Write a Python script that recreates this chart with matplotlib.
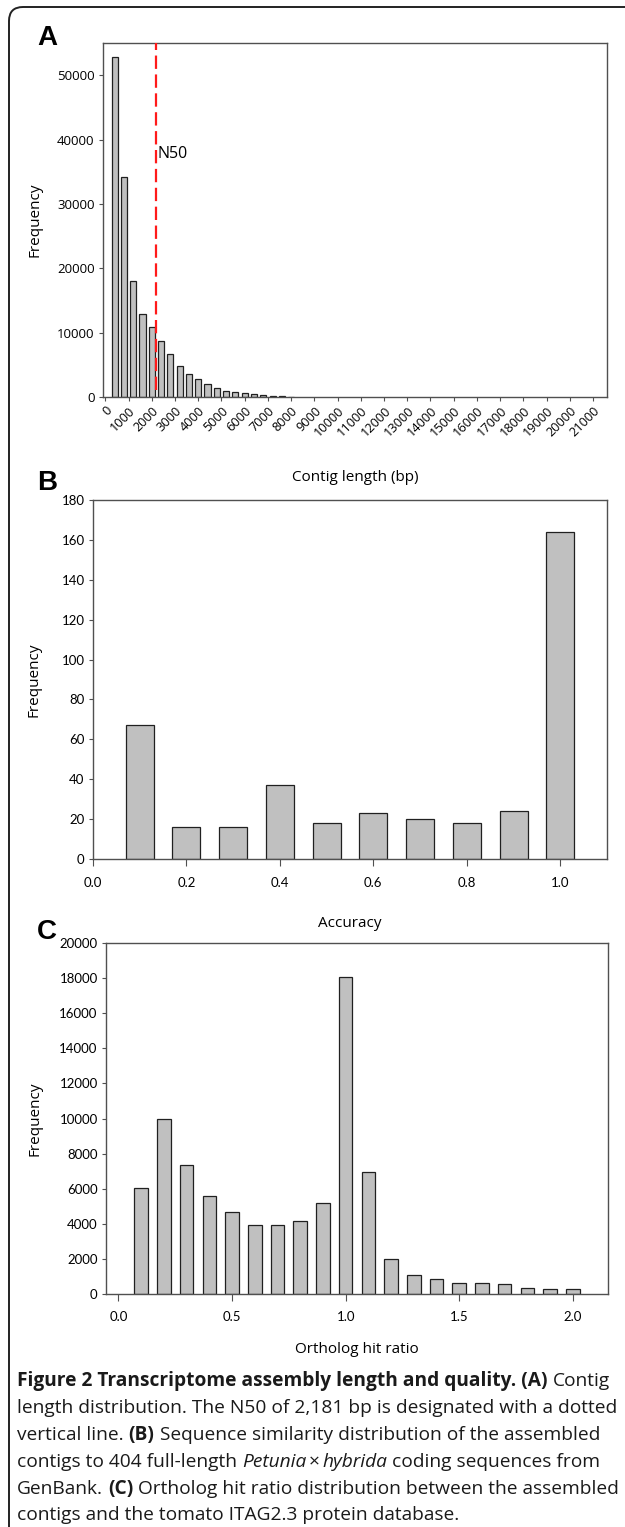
import matplotlib
matplotlib.use("Agg")
import matplotlib.pyplot as plt
from matplotlib.patches import FancyBboxPatch
import numpy as np

# panel A: contig length histogram (400 bp bins)
len_bins = [400, 800, 1200, 1600, 2000, 2400, 2800, 3200, 3600, 4000,
            4400, 4800, 5200, 5600, 6000, 6400, 6800, 7200, 7600, 8000]
len_counts = [52900, 34150, 18050, 12950, 10950, 8750, 6650, 4850, 3600, 2800,
              1950, 1350, 930, 770, 550, 400, 270, 200, 180, 60]
n50 = 2181

# panel B: accuracy
acc_bins = [0.1, 0.2, 0.3, 0.4, 0.5, 0.6, 0.7, 0.8, 0.9, 1.0]
acc_counts = [67, 16, 16, 37, 18, 23, 20, 18, 24, 164]

# panel C: ortholog hit ratio
ohr_bins = [0.1, 0.2, 0.3, 0.4, 0.5, 0.6, 0.7, 0.8, 0.9, 1.0,
            1.1, 1.2, 1.3, 1.4, 1.5, 1.6, 1.7, 1.8, 1.9, 2.0]
ohr_counts = [6050, 10000, 7370, 5560, 4670, 3950, 3950, 4180, 5200, 18040,
              6950, 1990, 1060, 840, 650, 610, 570, 360, 290, 280]

W, H = 625, 1527
fig = plt.figure(figsize=(W / 100, H / 100), dpi=100)

tickfont = ['Lato', 'DejaVu Sans']
labfont = ['Open Sans', 'DejaVu Sans']
bar_fc = '#c0c0c0'
bar_ec = '#202020'
spine_c = '#505050'


def axes_px(left, right, top, bottom):
    return fig.add_axes([left / W, 1 - bottom / H, (right - left) / W, (bottom - top) / H])


def style(ax):
    for s in ax.spines.values():
        s.set_color(spine_c)
        s.set_linewidth(1.0)
    ax.tick_params(direction='out', length=3, width=0.8, color=spine_c)


# ---------- A ----------
axA = axes_px(103, 607, 43, 397)
axA.bar(len_bins, len_counts, width=260, color=bar_fc, edgecolor=bar_ec, linewidth=0.9, zorder=2)
axA.axvline(n50, ymin=0.02, color='#ff1a1a', linestyle=(0, (6, 2.5)), linewidth=1.6, zorder=3)
axA.text(n50 + 60, 37800, 'N50', fontsize=11.5, family=labfont, va='center', ha='left')
axA.set_xlim(-100, 21600)
axA.set_ylim(0, 55000)
axA.set_xticks(np.arange(0, 22000, 1000))
axA.set_xticklabels([str(v) for v in range(0, 22000, 1000)], rotation=45, ha='right',
                    rotation_mode='anchor', family=labfont, fontsize=9.2)
axA.set_yticks([0, 10000, 20000, 30000, 40000, 50000])
axA.set_yticklabels(['0', '10000', '20000', '30000', '40000', '50000'], family=labfont, fontsize=9.5)
style(axA)
axA.tick_params(axis='x', pad=2)
axA.tick_params(axis='y', pad=3)
axA.set_ylabel('Frequency', family=labfont, fontsize=11)
axA.yaxis.set_label_coords(-0.121, 0.5)
axA.set_xlabel('Contig length (bp)', family=labfont, fontsize=11)
axA.xaxis.set_label_coords(0.5, -0.207)

# ---------- B ----------
axB = axes_px(93, 607, 500, 859)
axB.bar(acc_bins, acc_counts, width=0.06, color=bar_fc, edgecolor=bar_ec, linewidth=0.9, zorder=2)
axB.set_xlim(0, 1.1)
axB.set_ylim(0, 180)
axB.set_xticks([0.0, 0.2, 0.4, 0.6, 0.8, 1.0])
axB.set_xticklabels(['0.0', '0.2', '0.4', '0.6', '0.8', '1.0'], family=tickfont, fontsize=9.5)
axB.set_yticks(range(0, 181, 20))
axB.set_yticklabels([str(v) for v in range(0, 181, 20)], family=tickfont, fontsize=9.5)
style(axB)
axB.tick_params(axis='x', length=5, pad=8)
axB.tick_params(axis='y', pad=3)
axB.set_ylabel('Frequency', family=labfont, fontsize=11)
axB.yaxis.set_label_coords(-0.1, 0.5)
axB.set_xlabel('Accuracy', family=labfont, fontsize=11)
axB.xaxis.set_label_coords(0.5, -0.158)

# ---------- C ----------
axC = axes_px(106, 608, 943, 1294)
axC.bar(ohr_bins, ohr_counts, width=0.06, color=bar_fc, edgecolor=bar_ec, linewidth=0.9, zorder=2)
axC.set_xlim(-0.055, 2.155)
axC.set_ylim(0, 20000)
axC.set_xticks([0.0, 0.5, 1.0, 1.5, 2.0])
axC.set_xticklabels(['0.0', '0.5', '1.0', '1.5', '2.0'], family=tickfont, fontsize=9.5)
axC.set_yticks(range(0, 20001, 2000))
axC.set_yticklabels([str(v) for v in range(0, 20001, 2000)], family=tickfont, fontsize=9.5)
style(axC)
axC.tick_params(axis='x', length=5, pad=7)
axC.tick_params(axis='y', pad=3)
axC.set_ylabel('Frequency', family=labfont, fontsize=11)
axC.yaxis.set_label_coords(-0.127, 0.5)
axC.set_xlabel('Ortholog hit ratio', family=labfont, fontsize=11)
axC.xaxis.set_label_coords(0.5, -0.137)

# panel letters
for letter, yy in [('A', 38), ('B', 483), ('C', 932)]:
    fig.text(37 / W, 1 - yy / H, letter, fontsize=20, fontweight='bold',
             family=['Liberation Sans', 'DejaVu Sans'], va='center', ha='left')

# figure frame (rounded, open to the right and bottom)
frame = FancyBboxPatch((0.09, -0.5), 8.5, 15.20 + 0.5, boxstyle='round,pad=0,rounding_size=0.14',
                       transform=fig.dpi_scale_trans, fill=False, edgecolor='#222222', linewidth=1.4)
fig.add_artist(frame)

# caption, mixed fonts
cap_size = 13.8
cap_lines = [
    [('Figure 2 Transcriptome assembly length and quality. (A)', 'bold', 'normal'),
     ('Contig', 'normal', 'normal')],
    [('length distribution. The N50 of 2,181 bp is designated with a dotted', 'normal', 'normal')],
    [('vertical line.', 'normal', 'normal'), ('(B)', 'bold', 'normal'),
     ('Sequence similarity distribution of the assembled', 'normal', 'normal')],
    [('contigs to 404 full-length', 'normal', 'normal'), ('Petunia', 'normal', 'italic'),
     ('\u00d7', 'normal', 'normal'), ('hybrida', 'normal', 'italic'),
     ('coding sequences from', 'normal', 'normal')],
    [('GenBank.', 'normal', 'normal'), ('(C)', 'bold', 'normal'),
     ('Ortholog hit ratio distribution between the assembled', 'normal', 'normal')],
    [('contigs and the tomato ITAG2.3 protein database.', 'normal', 'normal')],
]
cap_y = [1381, 1408, 1435, 1462, 1489, 1515]

renderer = fig.canvas.get_renderer()


def text_w(s, weight, style_):
    t = fig.text(0, 0, s, fontsize=cap_size, family=labfont, fontweight=weight, fontstyle=style_)
    w = t.get_window_extent(renderer).width
    t.remove()
    return w


space_w = text_w('x x', 'normal', 'normal') - text_w('xx', 'normal', 'normal')
for pieces, yy in zip(cap_lines, cap_y):
    x = 17
    for i, (s, wgt, sty) in enumerate(pieces):
        gap = space_w
        if s == '\u00d7' or (i > 0 and pieces[i - 1][0] == '\u00d7'):
            gap = space_w * 0.5
        if i > 0:
            x += gap
        t = fig.text(x / W, 1 - yy / H, s, fontsize=cap_size, family=labfont,
                     fontweight=wgt, fontstyle=sty, va='center', ha='left', color='#1a1a1a')
        x += t.get_window_extent(renderer).width

fig.savefig('out.png', dpi=100)
